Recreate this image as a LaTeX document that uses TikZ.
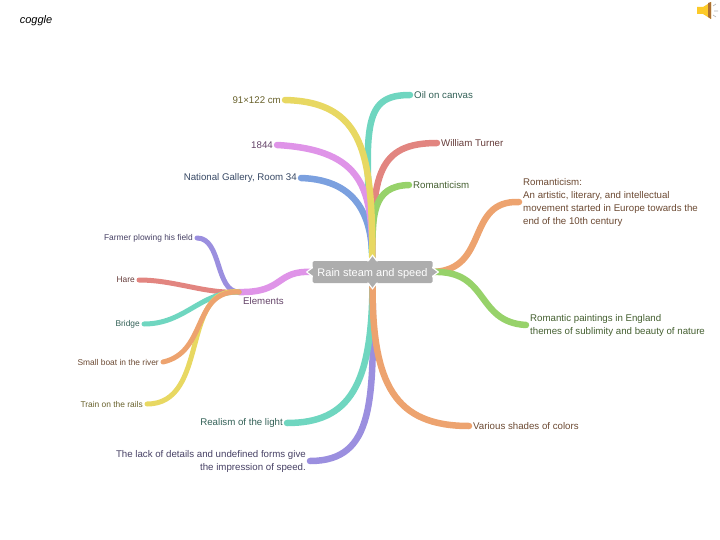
\documentclass[tikz,border=0pt]{standalone}
\usepackage{fontspec}
\setmainfont{Liberation Sans}
\usepackage{tikz}
\usetikzlibrary{arrows.meta,positioning,backgrounds}

\definecolor{cyellow}{HTML}{E8D862}
\definecolor{cteal}{HTML}{6FD6C0}
\definecolor{cred}{HTML}{E28580}
\definecolor{cgreen}{HTML}{97D26A}
\definecolor{cblue}{HTML}{7BA0DF}
\definecolor{cpink}{HTML}{DF94E8}
\definecolor{cpurple}{HTML}{9B8FDF}
\definecolor{corange}{HTML}{EDA36F}

\tikzset{
  leaf/.style={inner xsep=4pt, inner ysep=2pt, font=\fontsize{9.7}{13}\selectfont},
  small leaf/.style={leaf, font=\fontsize{8.4}{11}\selectfont},
  rootbox/.style={fill=black!32, rounded corners=1.5pt, text=white, minimum width=120pt, minimum height=22pt, inner sep=0pt, text height=9pt, text depth=1pt, font=\fontsize{11}{13}\selectfont},
  branch/.style={line width=6.5pt, line cap=round},
  twig/.style={line width=5pt, line cap=round},
}

\begin{document}
\begin{tikzpicture}[x=1pt,y=-1pt]
\useasboundingbox (0,0) rectangle (720,540);

\node (logo) at (36,21) [font=\fontsize{11}{11}\selectfont\itshape, inner sep=0pt] {coggle};

% sound icon
\fill[yellow!55!orange!85!white] (697,7) -- (703,7) -- (711,2) -- (711,19) -- (703,14) -- (697,14) -- cycle;
\fill[orange!60!black!80] (708,3) -- (711,2) -- (711,19) -- (708,17) -- cycle;
\draw[black!30, line width=0.6pt] (713,6) -- (716,4) (714,11) -- (718,11) (713,15) -- (716,17);

\node (root) at (372.5,272) [rootbox] {Rain steam and speed};

% top
\node (oil) at (410,95) [leaf, anchor=west, text=cteal!45!black] {Oil on canvas};
\node (turner) at (437,143) [leaf, anchor=west, text=cred!45!black] {William Turner};
\node (roman) at (409,185) [leaf, anchor=west, text=cgreen!45!black] {Romanticism};
\node (size) at (285,100) [leaf, anchor=east, text=cyellow!45!black] {91×122 cm};
\node (year) at (277,145) [leaf, anchor=east, text=cpink!45!black] {1844};
\node (gallery) at (301,178) [leaf, anchor=east, text=cblue!45!black] {National Gallery, Room 34};

% right
\node (romtext) at (519,202) [leaf, anchor=west, align=left, text=corange!45!black] {Romanticism:\\An artistic, literary, and intellectual\\movement started in Europe towards the\\end of the 10th century};
\node (england) at (526,325) [leaf, anchor=west, align=left, text=cgreen!45!black] {Romantic paintings in England\\themes of sublimity and beauty of nature};

% bottom
\node (light) at (287,423) [leaf, anchor=east, text=cteal!45!black] {Realism of the light};
\node (lack) at (310,461) [leaf, anchor=east, align=right, text=cpurple!45!black] {The lack of details and undefined forms give\\the impression of speed.};
\node (shades) at (469,426) [leaf, anchor=west, text=corange!45!black] {Various shades of colors};

% elements
\node (elements) at (239,292) [leaf, inner ysep=5pt, anchor=north west, text=cpink!45!black] {Elements};
\node (farmer) at (197,238) [small leaf, anchor=east, text=cpurple!45!black] {Farmer plowing his field};
\node (hare) at (139,280) [small leaf, anchor=east, text=cred!45!black] {Hare};
\node (bridge) at (144,324) [small leaf, anchor=east, text=cteal!45!black] {Bridge};
\node (boat) at (163,362) [small leaf, anchor=east, text=corange!45!black] {Small boat in the river};
\node (train) at (147,404) [small leaf, anchor=east, text=cyellow!45!black] {Train on the rails};

\begin{scope}[on background layer]
\draw[branch, cteal] (root.north) .. controls (364,125) and (362,95) .. (oil.west);
\draw[branch, cred] (root.north) .. controls (372,175) and (378,143) .. (turner.west);
\draw[branch, cgreen] (root.north) .. controls (372,215) and (372,186) .. (roman.west);
\draw[branch, cblue] (root.north) .. controls (372,220) and (360,180) .. (gallery.east);
\draw[branch, cpink] (root.north) .. controls (372,190) and (365,150) .. (year.east);
\draw[branch, cyellow] (root.north) .. controls (372,155) and (365,102) .. (size.east);

\draw[branch, corange] (root.east) .. controls (490,270) and (465,200) .. (romtext.west);
\draw[branch, cgreen] (root.east) .. controls (490,270) and (475,322) .. (england.west);

\draw[branch, cpurple] (root.south) .. controls (374,400) and (375,461) .. (lack.east);
\draw[branch, cteal] (root.south) .. controls (372,385) and (350,423) .. (light.east);
\draw[branch, corange] (root.south) .. controls (372,385) and (395,426) .. (shades.west);

\draw[branch, cpink] (root.west) .. controls (275,270) and (285,293) .. (elements.north west);
\draw[twig, cpurple] (elements.north west) .. controls (215,292) and (222,238) .. (farmer.east);
\draw[twig, cred] (elements.north west) .. controls (205,294) and (175,280) .. (hare.east);
\draw[twig, cteal] (elements.north west) .. controls (200,292) and (185,324) .. (bridge.east);
\draw[twig, cyellow] (elements.north west) .. controls (180,285) and (210,404) .. (train.east);
\draw[twig, corange] (elements.north west) .. controls (192,290) and (208,352) .. (boat.east);
\end{scope}

% handles on the box
\foreach \a/\r in {north/0,south/180,west/90,east/-90} {
  \begin{scope}[shift=(root.\a), rotate=\r]
  \fill[white] (-5.5,0.5) -- (0,-6.5) -- (5.5,0.5) -- cycle;
  \fill[black!32] (-4,1) -- (0,-4.5) -- (4,1) -- cycle;
  \end{scope}
}

\end{tikzpicture}
\end{document}
